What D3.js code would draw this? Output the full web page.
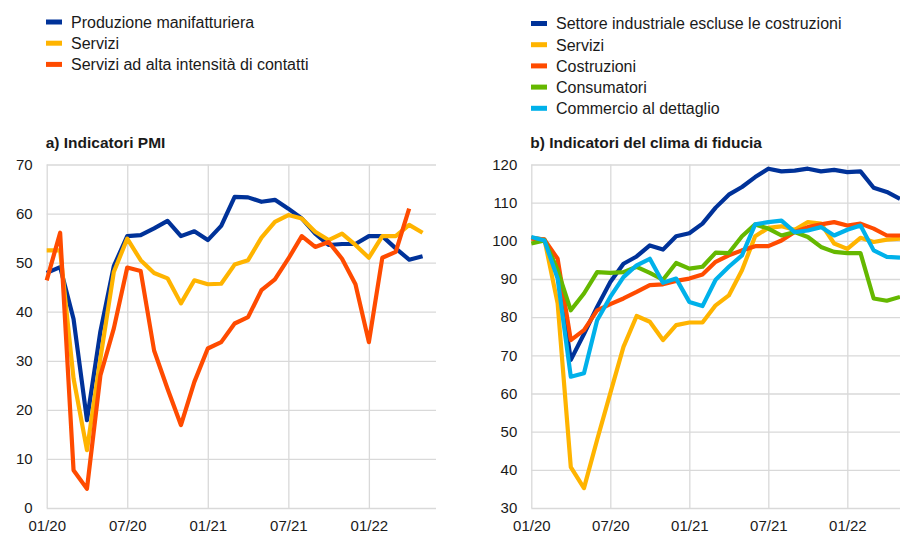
<!DOCTYPE html>
<html>
<head>
<meta charset="utf-8">
<script src="https://cdn.jsdelivr.net/npm/d3@7"></script>
<style>
  body { margin: 0; background: #fff; }
  text { font-family: "Liberation Sans", Arial, sans-serif; }
</style>
</head>
<body>
<script>
var w = 900;
var h = 533;

// tick labels, shared by both panels (month index 0 = 01/20)
var tickMonths = [0, 6, 12, 18, 24];
var tickLabels = ["01/20", "07/20", "01/21", "07/21", "01/22"];

// a) PMI
var pmiNames = ["Produzione manifatturiera", "Servizi", "Servizi ad alta intensità di contatti"];
var pmiManuf = [47.9, 49.1, 38.5, 17.9, 36, 49.3, 55.4, 55.6, 57, 58.5, 55.4, 56.4, 54.6, 57.5, 63.4,
  63.3, 62.4, 62.8, 61.0, 59.0, 55.9, 53.6, 53.8, 53.8, 55.4, 55.4, 52.9, 50.6, 51.3];
var pmiServ = [52.5, 52.5, 26.4, 11.8, 30.5, 48.1, 54.9, 50.5, 47.9, 46.8, 41.7, 46.4, 45.6, 45.7, 49.6,
  50.5, 55.1, 58.3, 59.7, 59.0, 56.3, 54.6, 55.9, 53.6, 51.0, 55.4, 55.4, 57.7, 56.1];
var pmiContact = [46.4, 56.1, 7.7, 3.9, 27.0, 36.6, 49.0, 48.3, 32.1, 24.3, 16.9, 25.7, 32.5, 33.8, 37.6,
  38.9, 44.4, 46.6, 50.8, 55.4, 53.2, 54.2, 50.8, 45.6, 33.8, 51.0, 52.2, 61.0];
var pmiTicks = [0, 10, 20, 30, 40, 50, 60, 70];

// b) clima di fiducia
var confNames = ["Settore industriale escluse le costruzioni", "Servizi", "Costruzioni", "Consumatori", "Commercio al dettaglio"];
var confIndustry = [100.8, 100.3, 92, 68.8, 75.6, 82.7, 89.2, 94.0, 95.9, 98.8, 97.7, 101.2, 102.0, 104.5, 108.7,
  112.1, 114.1, 116.7, 118.9, 118.2, 118.4, 118.9, 118.2, 118.6, 118.0, 118.2, 113.9, 112.8, 111.0];
var confServ = [100.8, 100.3, 83.6, 40.7, 35.2, 47.9, 60.1, 72.2, 80.3, 78.8, 74.0, 77.9, 78.6, 78.6, 83.1,
  85.7, 92.3, 101.2, 103.4, 103.8, 102.9, 104.9, 104.5, 99.3, 97.9, 100.8, 99.7, 100.3, 100.6];
var confConstr = [100.6, 100.3, 95.3, 74.0, 76.6, 81.8, 83.4, 84.9, 86.6, 88.4, 88.6, 89.5, 90.1, 91.2, 94.5,
  96.2, 97.5, 98.6, 98.6, 100.1, 102.3, 103.6, 104.3, 104.9, 104.0, 104.5, 103.2, 101.4, 101.4];
var confCons = [99.3, 100.1, 92.3, 81.8, 86.2, 91.8, 91.6, 91.8, 93.2, 91.6, 89.8, 94.2, 92.7, 93.2, 96.9,
  96.8, 101.2, 104.3, 103.2, 101.4, 102.3, 101.0, 98.4, 97.1, 96.8, 96.8, 84.9, 84.3, 85.3];
var confRetail = [101.0, 100.1, 90.1, 64.4, 65.3, 79.2, 85.3, 90.5, 93.6, 95.3, 89.0, 90.1, 84.0, 82.9, 89.8,
  93.2, 96.2, 104.3, 104.9, 105.3, 102.3, 102.7, 103.6, 101.4, 102.9, 104.0, 97.5, 95.8, 95.6];
var confTicks = [30, 40, 50, 60, 70, 80, 90, 100, 110, 120];

var blue = "#003299", yellow = "#ffb400", orange = "#ff4b00", green = "#65b800", cyan = "#00b1ea";
var gridColor = "#d9d9d9";

var svg = d3.select("body")
    .append("svg")
        .attr("width", w)
        .attr("height", h);

var drawLegend = function(x, y0, names, colors) {
    var g = svg.append("g").attr("transform", "translate(" + x + ",0)");
    names.forEach(function(name, i) {
        var y = y0 + i * 21.2;
        g.append("rect")
            .attr("x", 0).attr("y", y - 2.5)
            .attr("width", 16).attr("height", 5)
            .attr("fill", colors[i]);
        g.append("text")
            .attr("x", 25).attr("y", y + 5.8)
            .attr("font-size", 16)
            .attr("fill", "#1a1a1a")
            .text(name);
    });
};

var drawPanel = function(opt) {
    var x = d3.scaleLinear().domain([0, opt.maxMonth]).range([opt.left, opt.right]);
    var y = d3.scaleLinear().domain(opt.yDomain).range([508, 164.5]);

    svg.append("text")
        .attr("x", opt.left - 1)
        .attr("y", 147.5)
        .attr("font-size", 15.5)
        .attr("font-weight", "bold")
        .attr("fill", "#1a1a1a")
        .text(opt.title);

    var yAxis = svg.append("g")
        .attr("transform", "translate(" + opt.left + ",0)")
        .call(d3.axisLeft(y).tickValues(opt.yTicks).tickSize(-(opt.right - opt.left)).tickPadding(14));
    yAxis.select(".domain").remove();
    yAxis.selectAll("line").attr("stroke", gridColor).attr("stroke-width", 1.3);
    yAxis.selectAll("text").attr("font-size", 15).attr("fill", "#1a1a1a");

    var xAxis = svg.append("g")
        .attr("transform", "translate(0," + 508 + ")")
        .call(d3.axisBottom(x).tickValues(tickMonths)
            .tickFormat(function(d, i) { return tickLabels[i]; })
            .tickSize(-(508 - 164.5)).tickPadding(12));
    xAxis.select(".domain").remove();
    xAxis.selectAll("line").attr("stroke", gridColor).attr("stroke-width", 1.3);
    xAxis.selectAll("text").attr("font-size", 15).attr("fill", "#1a1a1a");

    var line = d3.line()
        .x(function(d, i) { return x(i); })
        .y(function(d) { return y(d); });

    opt.series.forEach(function(s) {
        svg.append("path")
            .datum(s.values)
            .attr("d", line)
            .attr("fill", "none")
            .attr("stroke", s.color)
            .attr("stroke-width", 4.2)
            .attr("stroke-linejoin", "round");
    });
};

drawLegend(46, 22, pmiNames, [blue, yellow, orange]);
drawLegend(531, 23.5, confNames, [blue, yellow, orange, green, cyan]);

drawPanel({
    title: "a) Indicatori PMI",
    left: 46.7, right: 436, maxMonth: 29,
    yDomain: [0, 70], yTicks: pmiTicks,
    series: [
        {values: pmiManuf, color: blue},
        {values: pmiServ, color: yellow},
        {values: pmiContact, color: orange}
    ]
});

drawPanel({
    title: "b) Indicatori del clima di fiducia",
    left: 531.3, right: 900, maxMonth: 28,
    yDomain: [30, 120], yTicks: confTicks,
    series: [
        {values: confIndustry, color: blue},
        {values: confServ, color: yellow},
        {values: confConstr, color: orange},
        {values: confCons, color: green},
        {values: confRetail, color: cyan}
    ]
});
</script>
</body>
</html>
